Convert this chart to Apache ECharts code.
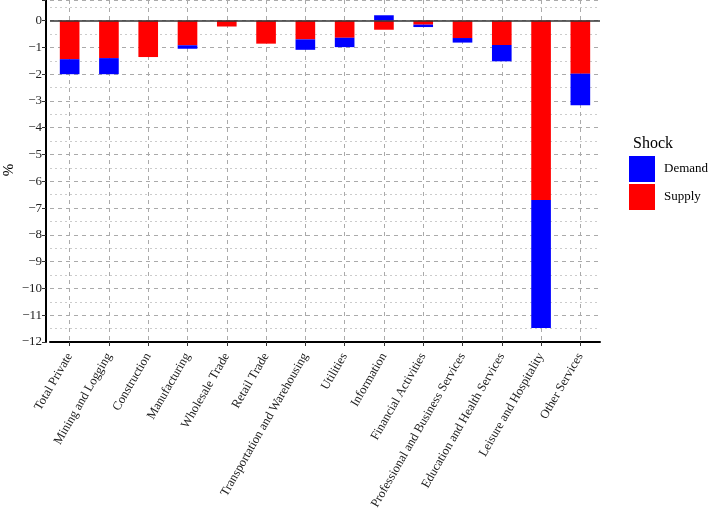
<!DOCTYPE html>
<html>
<head>
<meta charset="utf-8">
<script src="https://cdn.jsdelivr.net/npm/echarts@6/dist/echarts.min.js"></script>
<style>html,body{margin:0;padding:0;background:#fff}#c{width:708px;height:513px}</style>
</head>
<body>
<div id="c"></div>
<script>
const categories = ["Total Private","Mining and Logging","Construction","Manufacturing","Wholesale Trade","Retail Trade","Transportation and Warehousing","Utilities","Information","Financial Activities","Professional and Business Services","Education and Health Services","Leisure and Hospitality","Other Services"];
const supply = [-1.44,-1.40,-1.36,-0.92,-0.22,-0.86,-0.70,-0.64,-0.34,-0.15,-0.65,-0.91,-6.70,-1.98];
const demand = [-0.56,-0.60,0,-0.13,0,0,-0.39,-0.35,0.20,-0.09,-0.17,-0.61,-4.78,-1.18];
const yTicks = [-12,-11,-10,-9,-8,-7,-6,-5,-4,-3,-2,-1,0];

const FONT = "Liberation Serif";
const chart = echarts.init(document.getElementById('c'), null, {renderer:'canvas'});
chart.setOption({
  animation:false,
  backgroundColor:'#fff',
  textStyle:{fontFamily:FONT},
  title:{text:'Shock',left:628,top:131,textStyle:{fontFamily:FONT,fontWeight:'normal',fontSize:16,color:'#000'}},
  graphic:[{type:'text',x:9,y:170,rotation:Math.PI/2,
    style:{text:'%',fontFamily:FONT,fontSize:15,fill:'#000',align:'center',verticalAlign:'middle'}}],
  legend:{
    data:['Demand','Supply'],orient:'vertical',left:629,top:156,padding:0,
    itemWidth:26,itemHeight:26,itemGap:2,icon:'rect',
    textStyle:{fontFamily:FONT,fontSize:13,color:'#000',padding:[0,0,0,4]}
  },
  grid:{left:50,right:108,top:0,bottom:171,containLabel:false,outerBoundsMode:'none'},
  xAxis:{
    type:'category',data:categories,boundaryGap:true,
    axisLine:{show:true,onZero:false,lineStyle:{color:'#000',width:2}},
    axisTick:{show:true,alignWithLabel:true,length:4,lineStyle:{color:'#333'}},
    axisLabel:{rotate:60,margin:12,fontFamily:FONT,fontSize:12.5,color:'#222',interval:0},
    splitLine:{show:true,alignWithLabel:true,lineStyle:{color:'#aaa',type:[4,4],width:1}}
  },
  yAxis:{
    type:'value',min:-12,max:0.77,interval:1,offset:4,
    axisLine:{show:true,lineStyle:{color:'#000',width:2}},
    axisTick:{show:true,length:4,lineStyle:{color:'#333'}},
    axisLabel:{fontFamily:FONT,fontSize:13,color:'#222',margin:4,
      formatter:function(v){return yTicks.indexOf(Math.round(v))>=0 && Math.abs(v-Math.round(v))<1e-6 ? String(Math.round(v)).replace('-','\u2212') : '';}},
    splitLine:{show:true,lineStyle:{color:'#aaa',type:[4,4],width:1}},
    minorTick:{show:false,splitNumber:2},
    minorSplitLine:{show:true,lineStyle:{color:'#ccc',type:[2,3],width:1}}
  },
  series:[
    {name:'Supply',type:'bar',stack:'s',data:supply,barWidth:'50%',
      itemStyle:{color:'#FF0000'},
      markLine:{silent:true,symbol:'none',label:{show:false},
        lineStyle:{color:'#333',type:'solid',width:1.5},data:[{yAxis:0}]}},
    {name:'Demand',type:'bar',stack:'s',data:demand,barWidth:'50%',
      itemStyle:{color:'#0000FF'}}
  ]
});
</script>
</body>
</html>
